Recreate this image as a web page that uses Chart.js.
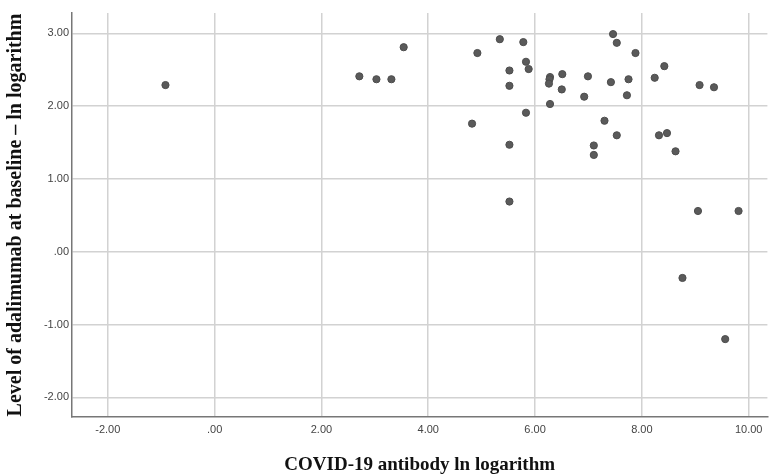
<!DOCTYPE html>
<html>
<head>
<meta charset="utf-8">
<script src="https://cdn.jsdelivr.net/npm/chart.js@4/dist/chart.umd.min.js"></script>
<style>
  body { margin: 0; background: #fff; }
  canvas { display: block; }
</style>
</head>
<body>
<canvas id="scatterChart" width="772" height="476"></canvas>
<script>
// data (x = COVID-19 antibody ln, y = adalimumab ln)
const antibodyLn = [
  -0.92, 2.71, 3.03, 3.31, 3.54, 4.82, 4.92, 5.34, 5.52, 5.52,
  5.52, 5.52, 5.78, 5.83, 5.88, 5.83, 6.28, 6.27, 6.26, 6.28,
  6.51, 6.50, 6.92, 6.99, 7.10, 7.10, 7.30, 7.46, 7.42, 7.53,
  7.53, 7.72, 7.75, 7.88, 8.24, 8.32, 8.42, 8.47, 8.63, 8.76,
  9.05, 9.08, 9.35, 9.56, 9.81
];
const adalimumabLn = [
  2.29, 2.41, 2.37, 2.37, 2.81, 1.76, 2.73, 2.92, 2.49, 2.28,
  1.47, 0.69, 2.88, 2.61, 2.51, 1.91, 2.40, 2.37, 2.31, 2.03,
  2.44, 2.23, 2.13, 2.41, 1.46, 1.33, 1.80, 2.99, 2.33, 2.87,
  1.60, 2.15, 2.37, 2.73, 2.39, 1.60, 2.55, 1.63, 1.38, -0.36,
  0.56, 2.29, 2.26, -1.20, 0.56
];

const xTickValues = [-2, 0, 2, 4, 6, 8, 10];
const xTickLabels = ["-2.00", ".00", "2.00", "4.00", "6.00", "8.00", "10.00"];
const yTickValues = [-2, -1, 0, 1, 2, 3];
const yTickLabels = ["-2.00", "-1.00", ".00", "1.00", "2.00", "3.00"];

const X_TITLE = "COVID-19 antibody ln logarithm";
const Y_TITLE = "Level of adalimumab at baseline \u2013 ln logarithm";

const points = antibodyLn.map((x, i) => ({ x: x, y: adalimumabLn[i] }));

const tickFont = { family: "'Liberation Sans', Arial, sans-serif", size: 11 };
const serif = "'Liberation Serif', 'Times New Roman', serif";

new Chart(document.getElementById("scatterChart"), {
  type: "scatter",
  data: {
    datasets: [{
      data: points,
      backgroundColor: "#5a5a5a",
      borderColor: "#4d4d4d",
      borderWidth: 1,
      pointRadius: 3.6,
      pointHoverRadius: 3.6
    }]
  },
  options: {
    responsive: false,
    animation: false,
    layout: { padding: { top: 13, right: 2, left: 0, bottom: 0 } },
    plugins: { legend: { display: false }, tooltip: { enabled: false } },
    scales: {
      x: {
        type: "linear",
        min: -2.67,
        max: 10.35,
        afterBuildTicks: (s) => { s.ticks = xTickValues.map((v) => ({ value: v })); },
        afterFit: (s) => { s.height = 59; },
        ticks: {
          callback: (v, i) => xTickLabels[i],
          font: tickFont,
          color: "#444",
          padding: 6,
          maxRotation: 0
        },
        grid: { color: "#d2d2d2", lineWidth: 1.5, drawTicks: false },
        border: { color: "#777", width: 1.5 },
        title: {
          display: true,
          text: X_TITLE,
          font: { family: serif, size: 19, weight: "bold" },
          color: "#111",
          padding: { top: 0, bottom: 0 }
        }
      },
      y: {
        type: "linear",
        min: -2.27,
        max: 3.28,
        afterBuildTicks: (s) => { s.ticks = yTickValues.map((v) => ({ value: v })); },
        afterFit: (s) => { s.width = 72; },
        ticks: {
          callback: (v, i) => yTickLabels[i],
          font: tickFont,
          color: "#444",
          padding: 3
        },
        grid: { color: "#d2d2d2", lineWidth: 1.5, drawTicks: false },
        border: { color: "#777", width: 1.5 },
        title: {
          display: true,
          text: Y_TITLE,
          font: { family: serif, size: 20, weight: "bold" },
          color: "#111",
          padding: { top: 4, bottom: 0 }
        }
      }
    }
  }
});
</script>
</body>
</html>
